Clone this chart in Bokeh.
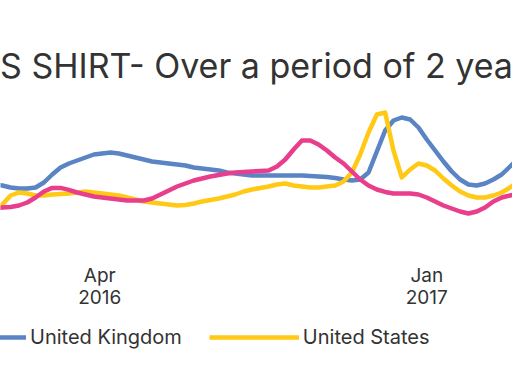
import pandas as pd
from bokeh.plotting import figure
from bokeh.layouts import column
from bokeh.models import ColumnDataSource, Legend, LegendItem, FixedTicker, DatetimeTickFormatter, Range1d
from bokeh.embed import file_html
from bokeh.resources import INLINE

# ---- data: weekly interest index ----
weeks = pd.date_range("2016-01-03", periods=64, freq="7D")
united_kingdom = [
    47.6, 46.9, 45.5, 44.8, 44.8, 45.5, 49.0, 54.6, 59.5, 62.3, 64.4, 66.5,
    68.6, 69.3, 70.0, 69.3, 67.9, 66.5, 65.1, 63.7, 63.0, 62.3, 61.6, 60.9,
    59.5, 58.8, 58.1, 57.4, 56.0, 55.3, 54.6, 53.9, 53.9, 53.9, 53.9, 53.9,
    53.9, 53.9, 53.6, 53.2, 52.9, 52.2, 51.1, 50.4, 51.1, 56.0, 70.7, 85.4,
    92.4, 94.5, 93.1, 87.5, 79.1, 71.4, 63.7, 56.7, 51.1, 47.6, 46.9, 48.3,
    51.1, 54.6, 60.2, 65.8,
]
united_states = [
    26.6, 33.6, 39.9, 42.0, 41.3, 39.9, 39.9, 40.6, 41.0, 41.3, 42.0, 42.7,
    42.0, 41.3, 40.6, 39.9, 38.5, 37.1, 35.7, 35.0, 34.3, 33.6, 32.9, 33.3,
    34.3, 35.7, 36.8, 37.8, 39.2, 40.6, 42.7, 44.1, 45.2, 46.2, 47.6, 48.3,
    46.9, 46.2, 45.5, 45.5, 46.2, 46.9, 49.7, 56.0, 68.6, 84.0, 96.6, 98.0,
    71.4, 52.5, 58.1, 62.3, 60.9, 57.4, 51.8, 46.9, 42.7, 39.9, 38.5, 38.5,
    39.9, 42.0, 45.5, 49.7,
]
third_series = [
    30.8, 31.5, 31.9, 32.9, 35.0, 38.5, 42.7, 45.2, 45.2, 43.8, 42.0, 40.6,
    39.2, 38.5, 37.8, 37.1, 36.4, 36.4, 36.4, 37.8, 40.6, 43.4, 46.2, 48.3,
    50.4, 51.8, 53.2, 54.3, 55.3, 56.0, 56.4, 56.7, 57.1, 57.4, 60.2, 65.1,
    72.1, 78.4, 78.4, 75.6, 71.4, 66.5, 62.3, 56.7, 51.1, 46.9, 44.1, 42.4,
    41.3, 41.3, 41.3, 40.6, 38.5, 35.7, 32.9, 30.8, 28.7, 27.3, 28.7, 31.5,
    35.7, 38.5, 39.9, 41.3,
]
tick_dates = ["2016-04-01", "2017-01-01"]
legend_labels = ["United Kingdom", "United States"]
title_text = "S SHIRT- Over a period of 2 yea"

UK_COLOR = "#5b84c4"
US_COLOR = "#ffc914"
OTHER_COLOR = "#e83e8c"
TEXT_COLOR = "#333333"


def ms(s):
    return pd.Timestamp(s).value // 10**6


src = ColumnDataSource(dict(x=weeks, uk=united_kingdom, us=united_states, other=third_series))

# ---- main chart ----
p = figure(width=512, height=320, output_backend="svg", toolbar_location=None,
           x_axis_type="datetime",
           x_range=Range1d(ms("2016-01-08 12:00"), ms("2017-03-14 02:00")),
           y_range=Range1d(-2.1, 113.4),
           min_border_left=0, min_border_right=0, min_border_top=90, min_border_bottom=65)
p.title.text = title_text
p.title.align = "center"
p.title.vertical_align = "bottom"
p.title.offset = 0
p.title.standoff = 10
p.title.text_line_height = 0.7
p.title.text_font = "Inter"
p.title.text_font_size = "34px"
p.title.text_font_style = "normal"
p.title.text_color = TEXT_COLOR

p.background_fill_color = "white"
p.border_fill_color = "white"
p.outline_line_color = None
p.grid.visible = False
p.yaxis.visible = False

lw = 4.5
p.line("x", "uk", source=src, line_color=UK_COLOR, line_width=lw, line_join="round", line_cap="round")
p.line("x", "us", source=src, line_color=US_COLOR, line_width=lw, line_join="round", line_cap="round")
p.line("x", "other", source=src, line_color=OTHER_COLOR, line_width=lw, line_join="round", line_cap="round")

ax = p.xaxis[0]
ax.ticker = FixedTicker(ticks=[ms(d) for d in tick_dates])
fmt = "%b\n%Y"
ax.formatter = DatetimeTickFormatter(days=fmt, months=fmt, years=fmt, hours=fmt, minutes=fmt)
ax.axis_line_color = None
ax.major_tick_line_color = None
ax.minor_tick_line_color = None
ax.major_label_text_font = "Inter"
ax.major_label_text_font_size = "19px"
ax.major_label_text_color = TEXT_COLOR
ax.major_label_text_line_height = 0.98
ax.major_label_standoff = 2

# ---- legend strip below (series drawn out of view; only the legend shows) ----
lg = figure(width=512, height=64, output_backend="svg", toolbar_location=None,
            x_range=Range1d(0, 1), y_range=Range1d(-1000, -999),
            min_border=0, min_border_left=0, min_border_right=0, min_border_top=0, min_border_bottom=0)
lg.axis.visible = False
lg.grid.visible = False
lg.outline_line_color = None
lg.background_fill_color = "white"
lg.border_fill_color = "white"
k_uk = lg.line("x", "uk", source=src, line_color=UK_COLOR, line_width=lw)
k_us = lg.line("x", "us", source=src, line_color=US_COLOR, line_width=lw)

legend = Legend(items=[LegendItem(label=legend_labels[0], renderers=[k_uk]),
                       LegendItem(label=legend_labels[1], renderers=[k_us])],
                orientation="horizontal", location=(-64, 35),
                glyph_width=90, glyph_height=20, label_standoff=4, spacing=27,
                padding=0, margin=0, border_line_color=None, background_fill_alpha=0,
                label_text_font="Inter", label_text_font_size="20px", label_text_color=TEXT_COLOR)
lg.add_layout(legend, "center")

open("out.html", "w").write(file_html(column(p, lg, spacing=0), INLINE))
